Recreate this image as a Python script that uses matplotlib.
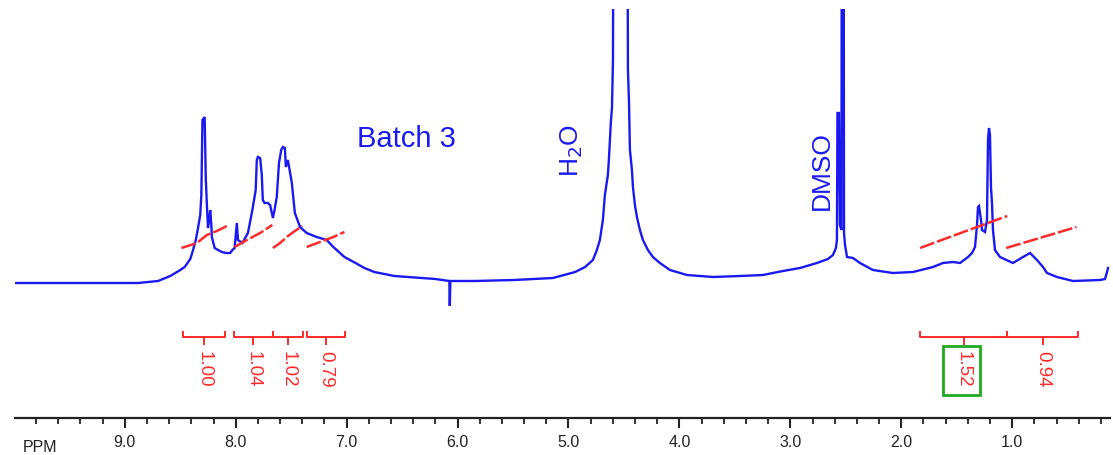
import matplotlib
matplotlib.use("agg")
import matplotlib.pyplot as plt
from matplotlib.patches import Rectangle
from matplotlib.ticker import FixedLocator

plt.rcParams['font.family'] = ['Liberation Sans', 'DejaVu Sans']

# spectrum trace (ppm, intensity above baseline in arbitrary units)
ppm = [10.0, 8.88, 8.70, 8.59, 8.50, 8.46, 8.41, 8.39, 8.36, 8.34, 8.32, 8.31,
       8.30, 8.28, 8.27, 8.26, 8.25, 8.24, 8.23, 8.22, 8.215, 8.19, 8.16, 8.125,
       8.09, 8.05, 8.03, 8.01, 8.00, 7.99, 7.98, 7.94, 7.89, 7.85, 7.82, 7.81,
       7.80, 7.78, 7.765, 7.756, 7.74, 7.71, 7.69, 7.665, 7.65, 7.63, 7.61, 7.59,
       7.575, 7.557, 7.548, 7.53, 7.494, 7.467, 7.42, 7.36, 7.27, 7.18, 7.12,
       7.02, 6.92, 6.84, 6.75, 6.57, 6.20, 6.074, 6.07, 6.065, 5.85, 5.49, 5.14,
       4.94, 4.85, 4.78, 4.744, 4.717, 4.69, 4.672, 4.645, 4.636, 4.617, 4.608,
       4.599, 4.59, 4.473, 4.464, 4.455, 4.446, 4.428, 4.419, 4.401, 4.383,
       4.356, 4.329, 4.284, 4.239, 4.176, 4.085, 3.932, 3.698, 3.454, 3.247,
       3.067, 2.913, 2.76, 2.661, 2.616, 2.589, 2.58, 2.575, 2.562, 2.553,
       2.539, 2.535, 2.521, 2.516, 2.507, 2.489, 2.435, 2.372, 2.255, 2.075,
       1.894, 1.714, 1.624, 1.534, 1.47, 1.398, 1.362, 1.335, 1.317, 1.308,
       1.299, 1.281, 1.272, 1.245, 1.227, 1.218, 1.209, 1.20, 1.191, 1.182,
       1.173, 1.155, 1.11, 0.993, 0.902, 0.839, 0.776, 0.722, 0.686, 0.596,
       0.451, 0.208, 0.163, 0.145, 0.136]
intensity = [0, 0, 2, 7, 13, 16, 24, 31, 43, 55, 68, 88,
             163, 166, 105, 78, 55, 63, 73, 58, 46, 35, 33, 31,
             30, 30, 33, 35, 48, 60, 43, 40, 50, 73, 93, 123,
             126, 125, 108, 83, 80, 80, 78, 65, 73, 86, 120, 133,
             136, 135, 116, 123, 100, 70, 56, 50, 46, 43, 36,
             26, 20, 15, 11, 7, 4, 2, -23, 2, 2, 3, 5,
             11, 16, 23, 33, 43, 63, 88, 108, 123, 163, 175,
             223, 600, 600, 213, 183, 133, 113, 96, 78, 66,
             53, 43, 33, 26, 20, 13, 8, 6, 7, 8,
             12, 15, 20, 24, 28, 35, 43, 170, 170, 58,
             53, 600, 600, 50, 38, 26, 25, 20, 13, 10,
             11, 16, 20, 21, 20, 26, 30, 36, 58, 76,
             77, 63, 53, 51, 63, 143, 155, 148, 96, 80,
             53, 33, 26, 20, 26, 30, 23, 16, 10, 6,
             2, 3, 4, 11, 15]

# integral traces
integral_ppm = [
    [8.49, 8.35, 8.26, 8.17, 8.08],
    [8.01, 7.90, 7.78, 7.67],
    [7.665, 7.60, 7.54, 7.48, 7.40],
    [7.36, 7.24, 7.12, 7.02],
    [1.83, 1.44, 1.045],
    [1.054, 0.42],
]
integral_h = [
    [35, 40, 48, 52, 57],
    [36, 43, 50, 58],
    [35, 40, 46, 51, 57],
    [36, 41, 46, 51],
    [35, 51, 67],
    [35, 56],
]

# integration regions and values
region_start = [8.477, 8.017, 7.665, 7.359, 1.83, 1.046]
region_end = [8.098, 7.665, 7.395, 7.016, 1.046, 0.406]
region_value = ['1.00', '1.04', '1.02', '0.79', '1.52', '0.94']
highlight = 4

major_ticks = [10, 9, 8, 7, 6, 5, 4, 3, 2, 1]

blue = '#1a1af0'
red = '#ff2a2a'

fig = plt.figure(figsize=(11.13, 4.55), dpi=100)
ax = fig.add_axes([15 / 1113, 37 / 455, 1095 / 1113, 409 / 455])
ax.set_xlim(9.99, 0.118)
ax.set_ylim(-135, 274)

ax.plot(ppm, intensity, color=blue, lw=1.7, solid_joinstyle='miter')

for xs, hs in zip(integral_ppm, integral_h):
    ax.plot(xs, hs, color=red, lw=1.8, ls=(0, (6, 1.2)))

# integration brackets
yb, yup, ydn = -54, -49, -61
for i, (a, b, v) in enumerate(zip(region_start, region_end, region_value)):
    c = (a + b) / 2
    ax.plot([a, a, b, b], [yup, yb, yb, yup], color=red, lw=1.4)
    ax.plot([c, c], [yb, ydn], color=red, lw=1.4)
    ax.text(c, -68, v, rotation=270, ha='center', va='top', color=red,
            fontsize=13.5)
    if i == highlight:
        ax.add_patch(Rectangle((1.624, -112), 1.29 - 1.624, 49, fill=False,
                               ec='#1faa1f', lw=2))

ax.text(6.91, 136, 'Batch 3', color=blue, fontsize=21, ha='left',
        va='baseline')
ax.text(4.97, 133, r'H$_2$O', color=blue, fontsize=19, rotation=90,
        ha='center', va='center')
ax.text(2.72, 112, 'DMSO', color=blue, fontsize=19, rotation=90,
        ha='center', va='center')

for s in ['top', 'left', 'right']:
    ax.spines[s].set_visible(False)
ax.spines['bottom'].set_linewidth(1.6)
ax.spines['bottom'].set_color('#222222')
ax.set_yticks([])
ax.xaxis.set_major_locator(FixedLocator(major_ticks))
ax.xaxis.set_minor_locator(FixedLocator([round(10 - 0.2 * k, 1) for k in range(50)]))
ax.set_xticklabels(['' if t == 10 else f'{t:.1f}' for t in major_ticks])
ax.tick_params(axis='x', which='major', length=7, width=1.5, pad=5,
               labelsize=11.5, colors='#222222')
ax.tick_params(axis='x', which='minor', length=4, width=1.3, colors='#222222')
ax.text(9.76, -164, 'PPM', fontsize=11.5, ha='center', va='center',
        color='#222222', clip_on=False)

fig.savefig('out.png', dpi=100)
